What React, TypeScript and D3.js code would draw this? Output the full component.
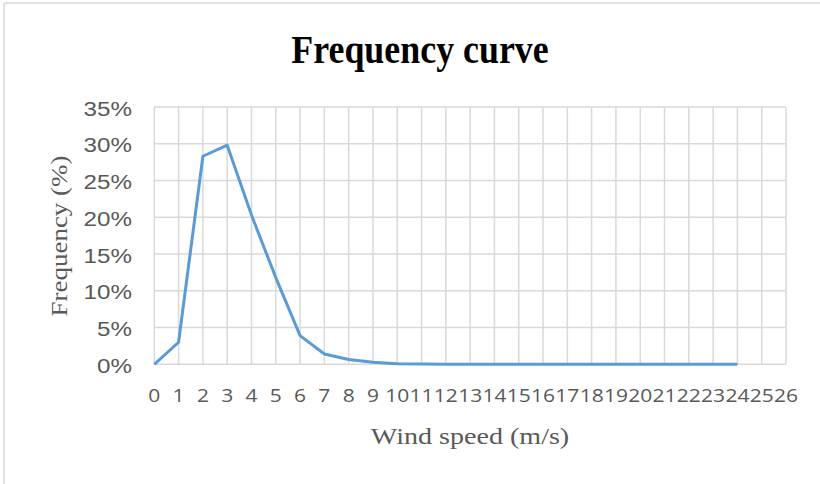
import React from "react";
import * as d3 from "d3";

const windSpeeds = [0, 1, 2, 3, 4, 5, 6, 7, 8, 9, 10, 11, 12, 13, 14, 15, 16, 17, 18, 19, 20, 21, 22, 23, 24];
const frequency = [0, 3.0, 28.3, 29.8, 20.3, 11.8, 3.9, 1.4, 0.65, 0.27, 0.08, 0.03, 0.01, 0, 0, 0, 0, 0, 0, 0, 0, 0, 0, 0, 0];
const xTickLabels = ["0","1","2","3","4","5","6","7","8","9","10","11","12","13","14","15","16","17","18","19","20","21","22","23","24","25","26"];
const yTicks = [0, 5, 10, 15, 20, 25, 30, 35];

const W = 820, H = 484;
const SX = 1.18;

export default function App() {
  const x = d3.scaleLinear().domain([0, 26]).range([154.3, 786]);
  const y = d3.scaleLinear().domain([0, 35]).range([364.3, 107]);
  const line = d3.line<number>().x((_, i) => x(windSpeeds[i])).y((d) => y(d));
  const grid = "#d9d9d9";
  const txt = "#595959";
  return (
    <svg width={W} height={H} style={{ position: "absolute", left: 0, top: 0, background: "#fff" }}>
      <rect x={0} y={0} width={W} height={H} fill="#fff" />
      <line x1={4} y1={3} x2={W} y2={3} stroke={grid} strokeWidth={1.5} />
      <line x1={4} y1={3} x2={4} y2={H} stroke={grid} strokeWidth={1.5} />
      <text transform="translate(420,63) scale(0.92,1)" textAnchor="middle" fontFamily="'Liberation Serif', serif" fontWeight="bold" fontSize={39} fill="#000">Frequency curve</text>
      {yTicks.map((t) => (
        <line key={"gy" + t} x1={x(0)} x2={x(26)} y1={y(t)} y2={y(t)} stroke={grid} strokeWidth={1.5} />
      ))}
      {xTickLabels.map((_, i) => (
        <line key={"gx" + i} x1={x(i)} x2={x(i)} y1={y(0)} y2={y(35)} stroke={grid} strokeWidth={1.5} />
      ))}
      {yTicks.map((t) => (
        <text key={"ty" + t} transform={`translate(132,${y(t) + 8.5}) scale(${SX},1)`} textAnchor="end" fontFamily="'Liberation Sans', Arial, sans-serif" fontSize={20.5} fill={txt}>{t + "%"}</text>
      ))}
      {xTickLabels.map((l, i) => (
        <text key={"tx" + i} transform={`translate(${x(i)},402) scale(${SX},1)`} textAnchor="middle" fontFamily="'Open Sans', sans-serif" fontSize={17.8} fill={txt}>{l}</text>
      ))}
      <path d={line(frequency) || ""} fill="none" stroke="#5b9bd5" strokeWidth={3} strokeLinejoin="round" />
      <text transform={`translate(470,444) scale(1.17,1)`} textAnchor="middle" fontFamily="'Liberation Serif', serif" fontSize={24} fill={txt}>Wind speed (m/s)</text>
      <text transform={`translate(67,236) rotate(-90) scale(1,0.85)`} textAnchor="middle" fontFamily="'Liberation Serif', serif" fontSize={27} fill={txt}>Frequency (%)</text>
    </svg>
  );
}
